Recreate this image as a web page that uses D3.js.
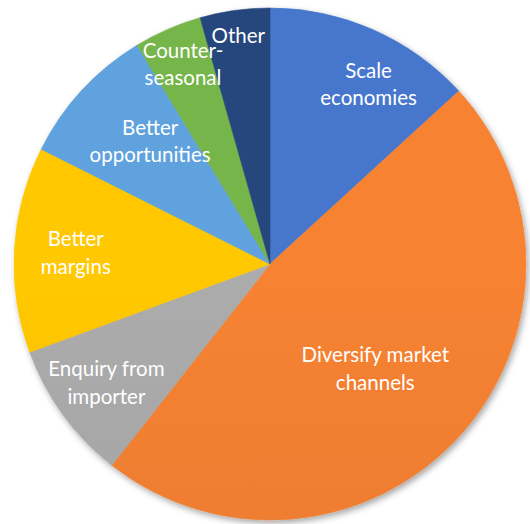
<!DOCTYPE html>
<html>
<head>
<meta charset="utf-8">
<script src="https://cdn.jsdelivr.net/npm/d3@7"></script>
<style>
  html, body { margin: 0; padding: 0; background: #ffffff; }
  svg { display: block; }
</style>
</head>
<body>
<svg id="chart" width="530" height="524"></svg>
<script>
// Reasons given, share of responses (%)
const categories = [
  "Scale economies",
  "Diversify market channels",
  "Enquiry from importer",
  "Better margins",
  "Better opportunities",
  "Counter-seasonal",
  "Other"
];
const values = [13.2, 47.4, 8.8, 13.0, 8.9, 4.3, 4.4];
// How each label is broken into lines inside its slice
const labelLines = [
  ["Scale", "economies"],
  ["Diversify market", "channels"],
  ["Enquiry from", "importer"],
  ["Better", "margins"],
  ["Better", "opportunities"],
  ["Counter-", "seasonal"],
  ["Other"]
];
const colors = ["#4472C4", "#ED7D31", "#A5A5A5", "#FFC000", "#5B9BD5", "#70AD47", "#264478"];

// Layout
const cx = 270, cy = 264, radius = 256;
// Label distance from the centre (fraction of radius) and small angular nudge (deg)
const labelRadius = [0.80, 0.58, 0.79, 0.76, 0.67, 0.85, 0.90];
const labelNudge  = [5, 2, 0, 0, 3, 0, 0];

const svg = d3.select("#chart");
const defs = svg.append("defs");

// Soft drop shadow under the pie
const shadow = defs.append("filter")
  .attr("id", "pieShadow")
  .attr("x", "-10%").attr("y", "-10%")
  .attr("width", "120%").attr("height", "120%");
shadow.append("feDropShadow")
  .attr("dx", 2).attr("dy", 3)
  .attr("stdDeviation", 3)
  .attr("flood-color", "#000")
  .attr("flood-opacity", 0.35);

// Vertical light-to-dark gradient for each slice colour
colors.forEach((c, i) => {
  const g = defs.append("linearGradient")
    .attr("id", "grad" + i)
    .attr("gradientUnits", "userSpaceOnUse")
    .attr("x1", 0).attr("y1", cy - radius)
    .attr("x2", 0).attr("y2", cy + radius);
  g.append("stop").attr("offset", "0%").attr("stop-color", d3.color(c).brighter(0.12));
  g.append("stop").attr("offset", "100%").attr("stop-color", d3.color(c).darker(0.1));
});

const data = categories.map((name, i) => ({ name, value: values[i], idx: i }));

const pie = d3.pie()
  .value(d => d.value)
  .sort(null)
  .startAngle(0)
  .endAngle(2 * Math.PI);

const arc = d3.arc().innerRadius(0).outerRadius(radius);
const arcs = pie(data);

const g = svg.append("g").attr("transform", `translate(${cx},${cy})`);

g.append("g")
  .attr("filter", "url(#pieShadow)")
  .selectAll("path")
  .data(arcs)
  .join("path")
  .attr("d", arc)
  .attr("fill", d => `url(#grad${d.data.idx})`)
  .attr("stroke", d => `url(#grad${d.data.idx})`)
  .attr("stroke-width", 0.6);

// Labels, placed along each slice's mid-angle
const fontSize = 20.5;
const lineHeight = 27.5;
const labels = g.append("g")
  .selectAll("text")
  .data(arcs)
  .join("text")
  .attr("transform", d => {
    const i = d.data.idx;
    const a = (d.startAngle + d.endAngle) / 2 + labelNudge[i] * Math.PI / 180;
    const r = radius * labelRadius[i];
    return `translate(${r * Math.sin(a)},${-r * Math.cos(a)})`;
  })
  .attr("text-anchor", "middle")
  .attr("font-family", "Lato, 'Open Sans', sans-serif")
  .attr("font-size", fontSize)
  .attr("fill", "#ffffff");

labels.each(function(d) {
  const lines = labelLines[d.data.idx];
  const t = d3.select(this);
  const offset = -(lines.length - 1) * lineHeight / 2;
  lines.forEach((ln, k) => {
    t.append("tspan")
      .attr("x", 0)
      .attr("y", offset + k * lineHeight)
      .attr("dy", "0.35em")
      .text(ln);
  });
});
</script>
</body>
</html>
